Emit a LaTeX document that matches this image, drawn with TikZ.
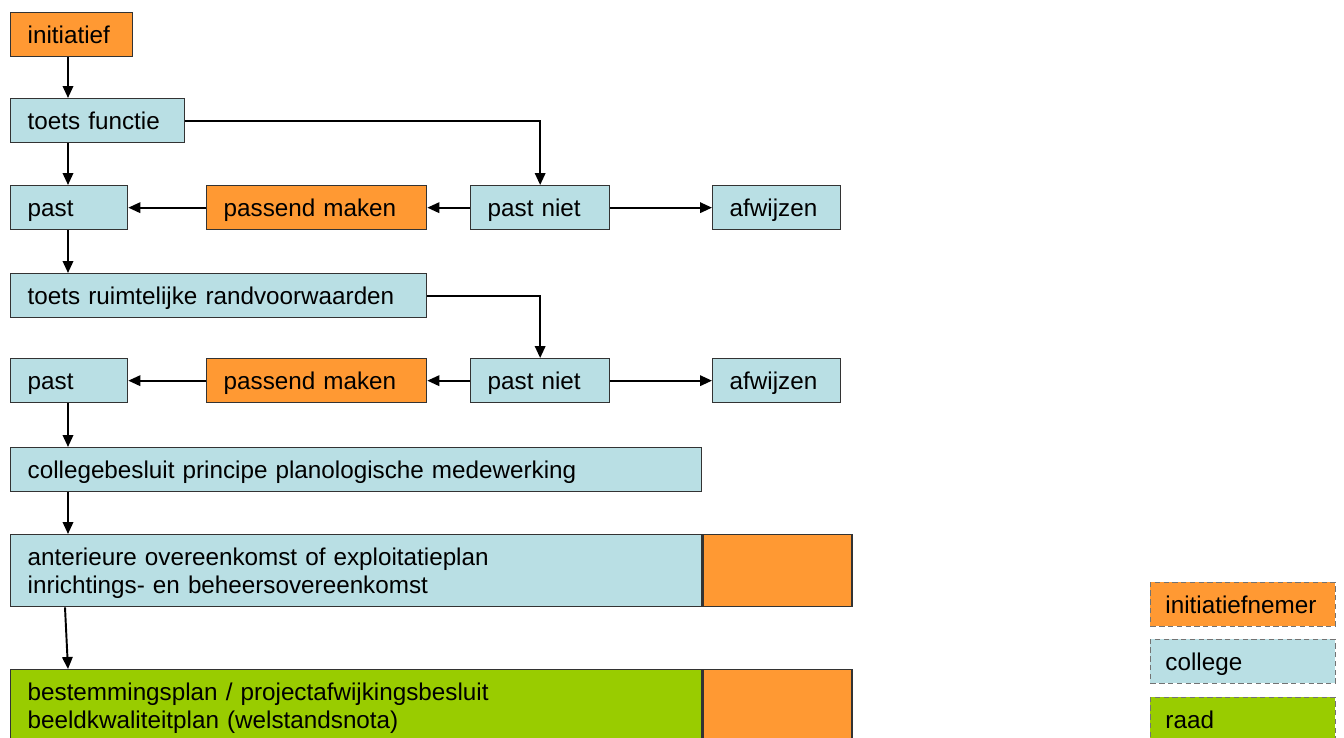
\documentclass[tikz,border=0pt]{standalone}
\usepackage{fontspec}
\setmainfont{Liberation Sans}
\usetikzlibrary{arrows.meta,positioning,calc}
\definecolor{initkl}{RGB}{255,153,51}
\definecolor{collkl}{RGB}{185,223,228}
\definecolor{raadkl}{RGB}{153,204,0}

\begin{document}
\begin{tikzpicture}[font=\fontsize{13.8pt}{15.9pt}\selectfont,
  stap/.style={draw=black!80, line width=0.75pt, anchor=north west, align=left, inner xsep=0.34cm, inner ysep=2pt, minimum height=0.88cm, text height=0.5cm, text depth=0.14cm},
  ini/.style={stap, fill=initkl},
  col/.style={stap, fill=collkl},
  raad/.style={stap, fill=raadkl},
  twee/.style={minimum height=1.44cm, text height=0.5cm, text depth=0.7cm},
  extra/.style={draw=black!80, line width=0.75pt, fill=initkl, inner sep=0pt, minimum width=2.98cm, minimum height=1.44cm},
  leg/.style={draw=black!55, densely dashed, line width=0.5pt, anchor=north west, align=left, inner xsep=0.3cm, text width=3.1cm, minimum height=0.87cm, text height=0.5cm, text depth=0.14cm},
  pijl/.style={-{Triangle[length=2.4mm,width=2.1mm]}, line width=1.1pt}]
\useasboundingbox (0,0) rectangle (26.88,-14.74);
\coordinate (vx) at (1.36,0);
% hoofdlijn
\node[ini, text width=1.76cm] (init) at (0.2,-0.24) {initiatief};
\node[col, text width=2.8cm] (tf) at (0.2,-1.96) {toets functie};
\node[col, text width=1.66cm] (past1) at (0.2,-3.7) {past};
\node[ini, text width=3.72cm] (pm1) at (4.12,-3.7) {passend maken};
\node[col, text width=2.1cm] (pn1) at (9.4,-3.7) {past niet};
\node[col, text width=1.88cm] (afw1) at (14.24,-3.7) {afwijzen};
\node[col, text width=7.64cm] (tr) at (0.2,-5.46) {toets ruimtelijke randvoorwaarden};
\node[col, text width=1.66cm] (past2) at (0.2,-7.16) {past};
\node[ini, text width=3.72cm] (pm2) at (4.12,-7.16) {passend maken};
\node[col, text width=2.1cm] (pn2) at (9.4,-7.16) {past niet};
\node[col, text width=1.88cm] (afw2) at (14.24,-7.16) {afwijzen};
\node[col, text width=13.14cm] (cb) at (0.2,-8.94) {collegebesluit principe planologische medewerking};
\node[col, twee, text width=13.14cm] (ao) at (0.2,-10.68) {anterieure overeenkomst of exploitatieplan\\inrichtings- en beheersovereenkomst};
\node[extra, right=0pt of ao] (ao2) {};
\node[raad, twee, text width=13.14cm] (bp) at (0.2,-13.38) {bestemmingsplan / projectafwijkingsbesluit\\beeldkwaliteitplan (welstandsnota)};
\node[extra, right=0pt of bp] (bp2) {};
% legenda
\node[leg, fill=initkl] (l1) at (23.0,-11.64) {initiatiefnemer};
\node[leg, fill=collkl] (l2) at (23.0,-12.78) {college};
\node[leg, fill=raadkl] (l3) at (23.0,-13.94) {raad};
% pijlen
\draw[pijl] (init.south -| vx) -- (tf.north -| vx);
\draw[pijl] (tf.south -| vx) -- (past1.north -| vx);
\draw[pijl] (tf.east) -| (pn1.north);
\draw[pijl] (pn1) -- (pm1);
\draw[pijl] (pm1) -- (past1);
\draw[pijl] (pn1) -- (afw1);
\draw[pijl] (past1.south -| vx) -- (tr.north -| vx);
\draw[pijl] (tr.east) -| (pn2.north);
\draw[pijl] (pn2) -- (pm2);
\draw[pijl] (pm2) -- (past2);
\draw[pijl] (pn2) -- (afw2);
\draw[pijl] (past2.south -| vx) -- (cb.north -| vx);
\draw[pijl] (cb.south -| vx) -- (ao.north -| vx);
\draw[pijl] ($(ao.south -| vx)+(-0.06,0)$) -- (bp.north -| vx);
\end{tikzpicture}
\end{document}
